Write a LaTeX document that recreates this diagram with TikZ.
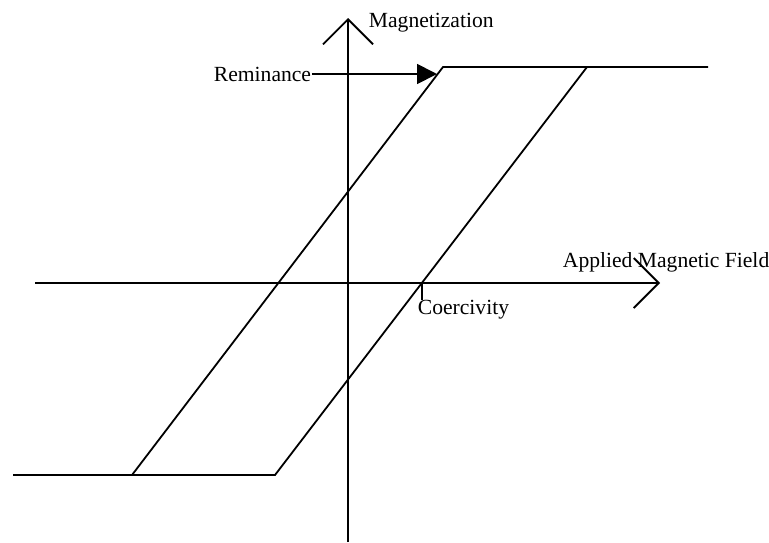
\documentclass[tikz,border=0pt]{standalone}
\usepackage{fontspec}
\setmainfont{Liberation Serif}
\usetikzlibrary{arrows.meta}

\begin{document}
\begin{tikzpicture}[x=0.5pt, y=-0.5pt, line width=0.9pt,
    axis/.style={-{Straight Barb[length=12.5pt, width=25pt, line join=miter]}},
    lbl/.style={font=\fontsize{10.8}{13}\selectfont, inner sep=0pt}]
  \useasboundingbox (0,0) rectangle (769,542);

  % axes
  \coordinate (hl) at (35,283);
  \coordinate (hr) at (660,283);
  \coordinate (vb) at (348,542);
  \coordinate (vt) at (348,18);
  \draw[axis] (hl) -- (hr);
  \draw[axis] (vb) -- (vt);

  % hysteresis loop
  \coordinate (bl) at (13,475);
  \coordinate (bm) at (132,475);
  \coordinate (br) at (275,475);
  \coordinate (tm) at (443,67);
  \coordinate (tr) at (587,67);
  \coordinate (te) at (708,67);
  \draw (bl) -- (br) -- (tr);
  \draw (bm) -- (tm) -- (te);

  % labels
  \node[lbl, anchor=base west] (mag) at (368,27) {Magnetization};
  \node[lbl, anchor=base west] (field) at (562,267) {Applied Magnetic Field};
  \node[lbl, anchor=base west] (rem) at (213,81) {Reminance};
  \node[lbl, anchor=base west] (coer) at (417,314) {Coercivity};

  % reminance arrow
  \coordinate (remtip) at (437,74);
  \draw[-{Triangle[length=10pt, width=10pt]}] (rem.east |- remtip) -- (remtip);

  % coercivity tick
  \coordinate (hc) at (421.7,283);
  \draw (hc) -- ++(0,17);
\end{tikzpicture}
\end{document}
